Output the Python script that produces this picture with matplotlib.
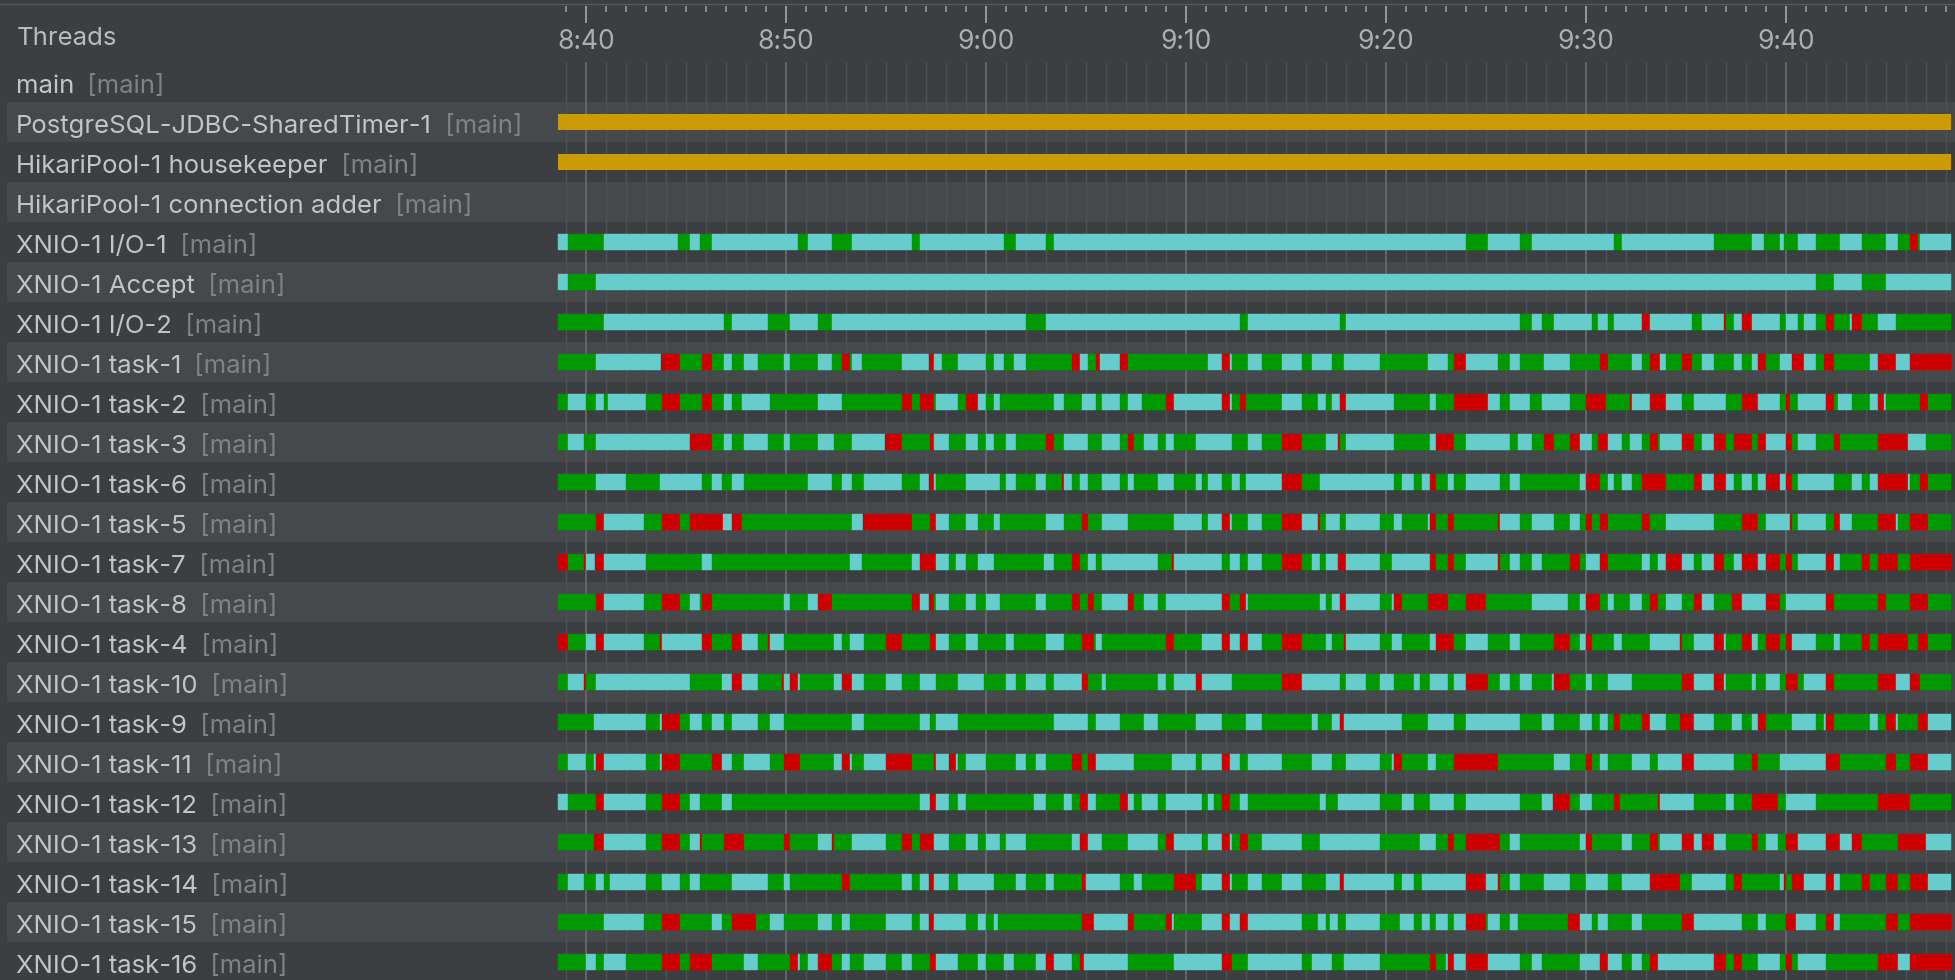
import matplotlib
matplotlib.use("Agg")
import matplotlib.pyplot as plt
import numpy as np

plt.rcParams['font.family'] = ['Inter', 'DejaVu Sans']

# thread rows, top to bottom
threads = ["main", "PostgreSQL-JDBC-SharedTimer-1", "HikariPool-1 housekeeper",
           "HikariPool-1 connection adder", "XNIO-1 I/O-1", "XNIO-1 Accept", "XNIO-1 I/O-2",
           "XNIO-1 task-1", "XNIO-1 task-2", "XNIO-1 task-3", "XNIO-1 task-6", "XNIO-1 task-5",
           "XNIO-1 task-7", "XNIO-1 task-8", "XNIO-1 task-4", "XNIO-1 task-10", "XNIO-1 task-9",
           "XNIO-1 task-11", "XNIO-1 task-12", "XNIO-1 task-13", "XNIO-1 task-14",
           "XNIO-1 task-15", "XNIO-1 task-16"]
group = "[main]"

# time axis, minutes after 8:40
tick_minutes = [0, 10, 20, 30, 40, 50, 60]
tick_labels = ["8:40", "8:50", "9:00", "9:10", "9:20", "9:30", "9:40"]
first_minute, last_minute = -1, 68

# the two timer threads are waiting the whole time
timer_rows = [1, 2]
timer_span = (-1.42, 68.26)

# state timelines: edges in minutes, one state letter per segment
# g = running, c = waiting/parked, r = blocked
io1_edges = [-1.42, -0.92, 0.90, 4.62, 5.21, 5.70, 6.31, 10.61, 11.11, 12.31, 13.29, 16.30, 16.71, 20.89, 21.51, 23.0, 23.39,
             43.99, 45.09, 46.68, 47.28, 51.39, 51.80, 56.39, 58.28, 58.90, 59.70, 59.88, 60.59, 61.48, 62.69, 63.78, 64.99,
             65.59, 66.18, 66.59, 66.68, 68.26]
io1_states = "cgcgcgcgcgcgcgcgcgcgcgcgcgcgcgcgcgrgc"

accept_edges = [-1.42, -0.92, 0.51, 61.48, 62.39, 63.78, 64.99, 68.26]
accept_states = "cgcgcgc"

io2_edges = [-1.42, 0.90, 6.91, 7.30, 9.11, 10.19, 11.59, 12.31, 22.0, 23.0, 32.69, 33.1, 37.69, 37.99, 46.68, 47.28, 47.78,
             48.40, 50.29, 50.59, 51.09, 51.39, 52.78, 53.19, 55.29, 55.79, 56.89, 56.98, 57.39, 57.78, 58.28, 59.70, 59.99,
             60.59, 60.88, 61.48, 61.98, 62.39, 63.19, 63.28, 63.78, 64.58, 65.50, 68.26]
io2_states = "gcgcgcgcgcg" + "cgcgcgcgcgcrcgcrgcrcgcgcgrgcrgcg"

task1_edges = [-1.42, 0.51, 3.77, 4.71, 5.81, 6.31, 6.91, 7.30, 7.90, 8.61, 9.90, 10.19, 11.59, 12.31, 12.81, 13.20, 13.29,
               13.80, 15.80, 17.17, 17.38, 17.79, 18.60, 20.0, 20.41, 20.89, 21.40, 22.0, 24.31, 24.70, 25.10, 25.51, 25.72,
               26.70, 27.12, 31.11, 31.80, 32.21, 32.30, 33.1,
               33.79, 34.79, 35.79, 36.30, 37.28, 37.90, 39.70, 42.10, 43.10, 43.40, 43.99, 45.59, 46.18, 46.68, 47.90, 49.20,
               50.68, 51.09, 52.28, 52.78, 53.19, 53.69, 53.99, 54.79, 55.29, 55.79, 56.39, 57.39, 57.78, 58.28, 58.58, 58.99,
               59.70, 60.29, 60.88, 61.48, 61.89, 62.39, 64.19, 64.58, 65.50, 66.18, 68.26]
task1_states = "gcrgrgcgcgcgcgrgcgcrcgcgcgcgrcgrcrgcrcg" + "cgcgcgcgcgrcgcgcgrgcgrcgrgcgcgcrgcrcgrgcrcr"

task2_edges = [-1.42, -0.92, 0, 0.51, 0.90, 1.10, 3.01, 3.81, 4.71, 5.81, 6.31, 6.91, 7.30, 7.81, 9.21, 11.59, 12.81, 15.80,
               16.30, 16.71, 17.40, 17.49, 18.60, 19.01, 19.61, 20.0, 20.41, 20.71, 23.40, 23.90, 24.80, 25.51, 25.81, 26.70,
               27.12, 27.80, 29.0, 29.41, 31.80, 32.21, 32.30, 32.69, 32.99,
               34.79, 35.79, 36.59, 36.98, 37.28, 37.69, 37.99, 40.38, 42.19, 42.48, 43.40, 45.09, 45.68, 46.18, 47.19, 47.78,
               49.20, 49.99, 51.0, 52.19, 52.28, 53.19, 53.99, 54.79, 55.38, 56.98, 57.78, 58.58, 59.70, 59.99, 60.18, 60.59,
               61.98, 62.39, 62.60, 63.28, 64.19, 64.58, 64.88, 64.99, 66.68, 67.09, 68.26]
task2_states = "gcgcgcgrgrgcgcgcgrgrgcgrcgcgcgcgcgcgrcrcgr" + "gcgcgcrcgcgrcgcgcgrgrcrcgcgrcgrgcrgcgcrcgrg"

task3_edges = [-1.42, -0.92, -0.09, 0.51, 5.21, 6.31, 6.91, 7.30, 7.90, 9.11, 9.90, 10.19, 11.59, 12.40, 13.29, 14.95, 15.80,
               17.22, 17.40, 18.14, 19.01, 19.61, 20.0, 20.41, 21.01, 21.51, 23.0, 23.40, 23.90, 25.10, 25.81, 26.70, 27.12,
               27.41, 27.90, 28.61, 29.0, 29.41, 30.51, 32.30, 33.1,
               33.79, 34.79, 35.79, 36.98, 37.60, 37.69, 37.99, 40.38, 42.19, 42.48, 43.40, 43.99, 46.18, 46.59, 47.28, 47.90,
               48.40, 49.20, 49.70, 50.29, 50.59, 51.09, 51.80, 52.19, 52.78, 53.19, 53.58, 53.69, 54.79, 55.38, 55.79, 56.39,
               56.98, 57.39, 58.28, 58.58, 58.99, 59.99, 60.29, 60.59, 61.48, 62.39, 62.69, 64.58, 66.09, 66.98, 68.26]
task3_states = "gcgcrgcgcgcgcgcrgrcgcgcgcgrgcgcgrgcgcgcg" + "cgrgcrgcgcrgcgcgrgrcgrcgcgrgcrgcrgrgrcrgcgrgrcg"

task6_edges = [-1.42, 0.51, 2.0, 3.70, 5.81, 6.31, 6.80, 7.30, 7.90, 11.11, 12.31, 12.81, 13.29, 13.91, 15.80, 16.71, 17.17,
               17.38, 17.49, 19.01, 20.71, 21.01, 21.51, 22.50, 23.0, 23.81, 23.90, 24.31, 24.70, 25.10, 25.81, 26.70, 27.12,
               27.41, 28.61, 29.41, 30.51, 30.81, 31.11, 31.80, 32.30, 32.69, 33.0,
               34.79, 35.79, 36.69, 40.38, 40.79, 41.39, 41.80, 42.19, 42.48, 43.10, 43.40, 43.99, 45.68, 46.18, 46.68, 49.70,
               49.99, 50.68, 51.09, 51.39, 51.80, 52.28, 52.78, 53.99, 55.38, 55.79, 56.39, 56.98, 57.39, 57.78, 58.28, 58.58,
               58.99, 59.70, 59.99, 60.29, 60.59, 62.39, 63.28, 63.78, 64.19, 64.58, 66.09, 66.18, 66.68, 67.09, 68.26]
task6_states = "gcgcgcgcgcgcgcgcrcgcgcgcgrcgcgcgcgcgcgcgcg" + "crgcgcgcrgcgcgcgcrgcgcgrgrcrcgcgcrcrgcgcgcrcgrg"

task5_edges = [-1.42, 0.51, 0.90, 2.89, 3.81, 4.71, 5.21, 6.84, 7.30, 7.81, 13.29, 13.84, 16.30, 17.22, 17.49, 18.14, 19.01,
               19.61, 20.41, 20.71, 23.0, 23.90, 24.80, 25.10, 25.81, 27.12, 29.41, 30.81, 31.11, 31.80, 32.21, 32.30, 33.1,
               33.79, 34.79, 35.79, 36.59, 36.69, 36.98, 37.69, 37.99, 39.70, 40.38, 40.79, 42.10, 42.19, 42.48, 43.10, 43.40,
               45.59, 45.68, 46.68, 47.28, 48.40, 49.20, 49.70, 49.99, 50.29, 50.68, 51.09, 52.78, 53.19, 53.99, 56.39, 57.78,
               58.58, 58.99, 60.18, 60.29, 60.59, 61.98, 62.39, 62.69, 63.28, 64.58, 65.50, 65.59, 66.18, 67.09, 68.26]
task5_states = "grcgrgrcrgcrgrcgcgcgcgrgcgcgcrcg" + "cgrcrgcgcgcgcrgrgrcgcgcgrgrgrgcgrgcrgcgrcgrcgrg"

task7_edges = [-1.42, -0.92, -0.09, 0, 0.46, 0.90, 3.01, 5.81, 6.31, 13.20, 13.80, 16.30, 16.71, 17.49, 18.14, 18.51, 19.01,
               19.61, 20.41, 22.91, 23.40, 24.31, 24.70, 25.10, 25.51, 25.81, 28.61, 29.30, 29.41, 31.80, 32.21, 32.69, 33.1,
               33.79, 34.79, 35.79, 36.30, 36.69, 36.98, 37.60, 37.99, 39.70, 40.29, 42.19, 42.48, 43.10, 43.40, 43.99, 45.59,
               45.68, 46.18, 46.68, 47.28, 47.78, 49.20, 49.70, 49.99, 50.68, 51.09, 52.78, 53.19, 53.58, 53.99, 54.79, 55.38,
               55.79, 56.39, 56.89, 57.39, 57.78, 58.58, 58.99, 59.70, 59.99, 60.29, 60.59, 61.98, 62.39, 62.69, 63.78, 64.19,
               64.58, 65.59, 66.18, 68.26]
task7_states = "rgrcrcgcgcgcrcgcgcgcgrgcgcgrcgcg" + "cgrgcgcrcgcrgrgcrgcgcgrgcrgcgcrcgcrgcrcrgrgcrcgrgrgr"

task8_edges = [-1.42, 0.51, 0.90, 2.89, 3.81, 4.71, 5.21, 5.69, 5.81, 6.31, 9.90, 10.19, 11.11, 11.59, 12.31, 16.30, 16.71,
               17.13, 17.38, 17.49, 18.14, 19.01, 19.52, 20.0, 20.71, 22.50, 23.0, 24.31, 24.70, 25.10, 25.39, 25.81, 27.12,
               27.41, 27.90, 28.61, 29.0, 31.80, 32.21, 32.69, 32.99,
               33.10, 36.69, 36.98, 37.28, 37.69, 37.99, 39.70, 40.29, 40.38, 40.79, 42.10, 43.10, 43.99, 44.99, 47.28, 49.08,
               49.70, 49.99, 50.68, 51.09, 51.39, 52.19, 52.78, 53.19, 53.58, 53.99, 54.79, 55.38, 55.79, 56.39, 57.28, 57.78,
               58.99, 59.70, 59.99, 61.98, 62.39, 64.58, 64.99, 66.18, 67.09, 68.26]
task8_states = "grcgrgcgrgcgcrgrcrgcgcgcgcgrgrgcrgcgcrgr" + "cgcgcrcgcrgrgrgcgcrgcgcgrgcgrcgrcrgcrgrgrg"

task4_edges = [-1.42, -0.92, 0, 0.51, 0.90, 2.89, 3.70, 3.81, 5.81, 6.31, 7.30, 7.81, 8.61, 9.11, 9.21, 9.90, 12.40, 12.81,
               13.20, 13.91, 14.99, 15.80, 17.22, 17.49, 18.14, 19.01, 19.61, 21.01, 21.40, 23.0, 23.90, 24.80, 25.39, 25.51,
               25.81, 29.0, 29.41, 30.81, 31.80, 32.21, 32.69, 33.1,
               33.79, 34.79, 35.79, 36.98, 37.28, 37.90, 37.99, 39.70, 40.29, 40.79, 42.19, 42.48, 43.40, 43.99, 45.09, 46.18,
               46.68, 48.40, 49.20, 49.70, 49.99, 50.29, 51.39, 51.80, 53.19, 54.70, 54.79, 55.38, 56.39, 56.89, 56.98, 57.78,
               58.28, 58.58, 58.99, 59.70, 59.99, 60.29, 61.48, 62.39, 62.69, 63.78, 64.19, 64.58, 66.09, 66.59, 67.09, 68.26]
task4_states = "rgcrcgrcrgrcgrcgcgcgrgrcgcgcgcgrgcgrgcrcr" + "cgrgcgrcgcgcrgcgcgrgcrgcgcrgcrcgrcgrgrcgcgrgrgrg"

task10_edges = [-1.42, -0.92, -0.09, 0, 0.51, 5.21, 6.80, 7.30, 7.81, 8.61, 9.80, 9.90, 10.19, 10.61, 10.70, 12.40, 12.81,
                13.29, 13.91, 14.99, 15.80, 16.71, 17.49, 18.60, 19.91, 21.01, 21.51, 22.0, 23.0, 23.40, 24.80, 25.10, 25.81,
                26.01, 28.61, 29.0, 29.41, 30.51, 30.81, 32.30,
                34.79, 35.79, 37.69, 37.99, 38.99, 39.70, 40.38, 41.39, 41.68, 42.19, 43.10, 43.40, 43.99, 45.09, 45.68, 46.18,
                46.68, 47.28, 48.28, 48.40, 49.20, 49.99, 50.29, 51.09, 52.28, 54.79, 55.38, 56.39, 56.89, 56.98, 58.28, 58.49,
                58.99, 59.70, 59.99, 60.59, 60.88, 61.98, 62.39, 64.58, 65.50, 66.18, 66.68, 68.26]
task10_states = "gcrgcgcrcgrcrcgcrcgcgcgcgcgcgcrgcgcgcrc" + "grcgcgcgcgcgcrgcgcgcrgcgcgrcrcgcgcgrgcrgrcrg"

task9_edges = [-1.42, 0.41, 3.01, 3.70, 3.81, 4.71, 5.21, 5.81, 6.31, 6.91, 7.30, 8.61, 9.21, 9.90, 13.29, 13.91, 16.71,
               17.22, 17.49, 18.60, 23.40, 25.10, 25.51, 26.70, 27.90, 28.61, 30.51, 31.80, 32.99,
               33.79, 36.30, 36.59, 37.28, 37.69, 37.90, 40.79, 42.10, 43.40, 43.99, 46.68, 47.78, 48.40, 49.70, 50.29, 50.68,
               51.09, 51.39, 51.68, 52.78, 53.19, 53.99, 54.70, 55.38, 56.39, 57.28, 57.78, 58.28, 58.58, 58.99, 60.29, 61.48,
               61.89, 61.98, 62.39, 64.19, 64.58, 64.99, 65.50, 65.59, 66.59, 67.09, 68.26]
task9_states = "gcgcrgcgcgcgcgcgcgcgcgcgcgcg" + "cgcgcrcgcgcgcgcgcgrgrcgrcgcgcrgcgcrgcgrcgrc"

task11_edges = [-1.42, -0.92, 0, 0.41, 0.51, 0.90, 3.01, 3.70, 3.81, 4.71, 6.31, 6.80, 7.30, 7.90, 9.21, 9.90, 10.70, 12.40,
                12.81, 13.20, 13.29, 13.91, 14.99, 16.30, 17.40, 17.49, 18.14, 18.51, 18.60, 19.01, 20.0, 21.51, 22.0, 22.50,
                23.0, 24.31, 24.80, 25.10, 25.51, 27.41, 29.30, 30.51, 30.81, 31.80, 32.21, 32.69, 33.1,
                34.79, 36.30, 37.28, 37.99, 39.70, 40.29, 40.38, 40.79, 42.10, 42.48, 43.40, 45.59, 48.40, 49.20, 49.99, 50.29,
                50.68, 51.09, 52.28, 53.19, 53.58, 54.79, 55.38, 57.39, 58.28, 58.58, 59.70, 61.98, 62.69, 64.99, 65.50, 66.18,
                67.09, 68.26]
task11_states = "gcgcrcgcrgrcgcgrgcrcgcrgrcrcgcgcgcgrgrcgcgcrcg" + "cgcgcgcrgcgrgcgrgcgcgcrcgrgcrgrgrc"

task12_edges = [-1.42, -0.92, 0.51, 0.90, 3.01, 3.81, 4.71, 5.21, 5.69, 6.80, 7.30, 16.71, 17.22, 17.49, 18.14, 18.60, 19.01,
                22.41, 23.0, 23.90, 24.31, 24.70, 25.10, 25.51, 26.70, 27.12, 27.41, 27.80, 28.61, 29.0, 30.79, 31.11, 31.41,
                31.80, 32.21, 32.69, 33.1,
                36.69, 36.98, 37.60, 39.70, 40.79, 41.39, 42.19, 43.40, 43.99, 46.68, 47.78, 48.35, 49.20, 49.70, 50.29, 51.39,
                51.68, 53.58, 53.69, 55.38, 56.98, 57.39, 58.28, 59.58, 59.99, 61.48, 64.58, 66.18, 68.26]
task12_states = "cgrcgrgcgcgcrcgcgcgcgrcgrcgcgcgcgrgc" + "gcgcgcgcgcgcrgcgrgrcgcgrgcgrg"

task13_edges = [-1.42, 0.41, 0.90, 3.01, 3.81, 4.71, 5.21, 5.69, 5.81, 6.91, 7.90, 9.90, 10.19, 11.59, 12.31, 12.40, 13.29,
                14.99, 15.80, 16.30, 16.71, 17.40, 18.14, 19.01, 19.61, 20.0, 20.71, 21.01, 22.0, 24.31, 24.70, 25.10, 25.81,
                27.12, 28.61, 29.0, 29.41, 30.79, 31.11, 31.80, 32.21, 32.30, 32.69,
                33.10, 33.79, 35.79, 36.69, 39.70, 41.68, 42.48, 43.10, 43.40, 43.99, 45.68, 46.18, 46.68, 49.70, 49.99, 50.29,
                51.80, 52.28, 53.19, 53.58, 53.69, 54.79, 55.38, 55.79, 56.39, 56.98, 58.28, 58.58, 58.99, 59.58, 59.99, 60.59,
                61.98, 62.69, 63.28, 63.78, 65.59, 66.98, 68.26]
task13_states = "grcgrgcrgrgrgcrgcgrgrcgcgcgcgcrcgcgrcgcrcg" + "rgcgcgcgrgrgcgcrgcgrgcrcrcgrgcgrcrcrgrc"

task14_edges = [-1.42, -0.92, -0.09, 0.51, 0.90, 1.19, 3.01, 3.81, 4.71, 5.21, 5.69, 7.30, 9.11, 9.90, 10.19, 12.81, 13.20,
                15.80, 16.30, 16.71, 17.17, 17.38, 18.14, 18.60, 20.41, 21.51, 22.0, 23.0, 23.40, 24.80, 25.0, 26.70, 27.41,
                27.80, 29.41, 30.51, 30.81, 31.80, 32.21, 32.30, 33.1,
                33.79, 34.79, 35.79, 36.98, 37.69, 37.90, 40.38, 40.79, 41.39, 41.80, 43.99, 44.99, 45.59, 45.68, 46.18, 46.68,
                47.90, 49.20, 49.99, 51.09, 51.80, 53.19, 54.70, 55.29, 56.98, 57.39, 57.78, 59.70, 59.88, 59.99, 60.29, 60.88,
                61.98, 62.39, 62.69, 63.78, 64.19, 64.99, 65.59, 66.18, 67.09, 68.26]
task14_states = "gcgcgcgcgcgcgcgrgcgcrcgcgcgcgrcgcgrgcrcg" + "cgcgcrcgcgcrcrgcgcgcgcrgcgrgcrgrcrcgrgrgrc"

task15_edges = [-1.42, 0.90, 2.89, 3.81, 4.71, 6.31, 6.80, 7.30, 8.50, 9.21, 9.90, 11.59, 12.31, 12.81, 13.20, 14.99, 16.30,
                16.71, 17.17, 17.38, 19.01, 19.61, 20.0, 20.41, 20.62, 24.80, 25.39, 27.12, 27.41, 29.0, 29.30, 29.41, 30.81,
                31.80, 32.21, 32.69,
                33.10, 35.79, 36.59, 36.98, 37.19, 37.60, 37.99, 39.70, 40.68, 41.39, 41.80, 42.19, 42.48, 43.10, 43.40, 43.99,
                44.99, 45.09, 45.68, 46.18, 46.59, 49.08, 49.70, 50.29, 50.59, 51.09, 52.28, 52.78, 54.79, 55.38, 57.78, 58.58,
                58.99, 59.99, 60.50, 61.48, 61.98, 62.39, 62.69, 64.99, 65.59, 66.18, 68.26]
task15_states = "gcgrgcgrgcgcgcgcgcrcgcgcgrcrgrcgcrc" + "rcgcgcgcgcgcgcgcrgcgcgrcgcgcgrcgcgrcgrcgrgr"

task16_edges = [-1.42, 0, 0.51, 0.90, 2.0, 3.81, 4.71, 5.21, 6.31, 7.90, 8.61, 10.19, 10.61, 10.70, 11.11, 11.59, 12.31,
                12.81, 13.20, 13.91, 14.99, 15.80, 16.30, 17.22, 17.49, 18.60, 19.61, 20.0, 20.89, 21.40, 22.50, 23.0, 23.40,
                24.31, 24.70, 24.89, 27.12, 29.41, 31.80, 32.30, 33.1,
                35.79, 36.30, 37.28, 37.90, 39.70, 42.19, 42.48, 42.99, 43.10, 43.40, 43.99, 45.09, 46.68, 47.28, 47.78, 49.70,
                50.68, 51.09, 51.80, 52.28, 52.78, 53.19, 53.58, 56.39, 56.98, 57.39, 57.78, 58.58, 59.70, 59.99, 60.29, 60.59,
                61.98, 64.58, 65.59, 66.18, 68.26]
task16_states = "gcgcgrgrgcgrcgcrgcgcgcgrcgcgcgcrcgrcgcrg" + "cgcgcgrgcrcrcgcgcrcgcgrcrgrgcgrgcgrcr"

BG = "#3c3f41"
BAND = "#45494b"
GOLD = "#cc9a06"
state_colors = {"g": "#009900", "c": "#66cccc", "r": "#cc0000"}

timelines = [(4, io1_edges, io1_states), (5, accept_edges, accept_states), (6, io2_edges, io2_states),
             (7, task1_edges, task1_states), (8, task2_edges, task2_states), (9, task3_edges, task3_states),
             (10, task6_edges, task6_states), (11, task5_edges, task5_states), (12, task7_edges, task7_states),
             (13, task8_edges, task8_states), (14, task4_edges, task4_states), (15, task10_edges, task10_states),
             (16, task9_edges, task9_states), (17, task11_edges, task11_states), (18, task12_edges, task12_states),
             (19, task13_edges, task13_states), (20, task14_edges, task14_states), (21, task15_edges, task15_states),
             (22, task16_edges, task16_states)]

fig = plt.figure(figsize=(19.56, 9.8), dpi=100)
fig.patch.set_facecolor(BG)
ax = fig.add_axes([0, 0, 1, 1])
ax.set_xlim(-29.3, 68.5)
ax.set_ylim(22.45, -2.05)
ax.axis("off")

# alternating row stripes
for i in range(1, len(threads), 2):
    ax.axhspan(i - 0.5, i + 0.5, xmin=7 / 1956, color=BAND, lw=0, zorder=0)

# minute grid and ruler
minutes = np.arange(first_minute, last_minute + 1)
major = [m for m in minutes if m % 10 == 0]
minor = [m for m in minutes if m % 10 != 0]
ax.vlines(minor, -0.5, 22.45, colors="#4f5254", lw=1.0, zorder=1)
ax.vlines(major, -0.5, 22.45, colors="#62666a", lw=1.4, zorder=1)
ax.vlines(minor, -1.9, -1.75, colors="#9a9a9a", lw=1.2, zorder=1)
ax.vlines(major, -1.9, -1.47, colors="#9a9a9a", lw=1.4, zorder=1)
ax.axhline(-1.94, color="#56595b", lw=1, zorder=1)
for m, lab in zip(tick_minutes, tick_labels):
    ax.text(m, -1.0, lab, ha="center", va="center", fontsize=19, color="#adadad")

ax.text(-28.45, -1.1, "Threads", ha="left", va="center", fontsize=18.5, color="#bbbbbb")

for i, name in enumerate(threads):
    t = ax.text(-28.5, i + 0.1, name, ha="left", va="center", fontsize=18.5, color="#c4c4c4", zorder=5)
    ax.annotate(" " + group, xy=(1, 0), xycoords=t, xytext=(6, 0), textcoords="offset pixels",
                ha="left", va="bottom", fontsize=18.5, color="#808284", zorder=5)

for row in timer_rows:
    ax.broken_barh([(timer_span[0], timer_span[1] - timer_span[0])], (row - 0.2, 0.4),
                   facecolors=GOLD, lw=0, zorder=3)

for row, edges, states in timelines:
    assert len(edges) == len(states) + 1, (row, len(edges), len(states))
    spans = [(a, b - a) for a, b in zip(edges[:-1], edges[1:])]
    cols = [state_colors[s] for s in states]
    ax.broken_barh(spans, (row - 0.2, 0.4), facecolors=cols, edgecolors=cols, lw=0.3, zorder=3)

fig.savefig("out.png", dpi=100, facecolor=BG)
